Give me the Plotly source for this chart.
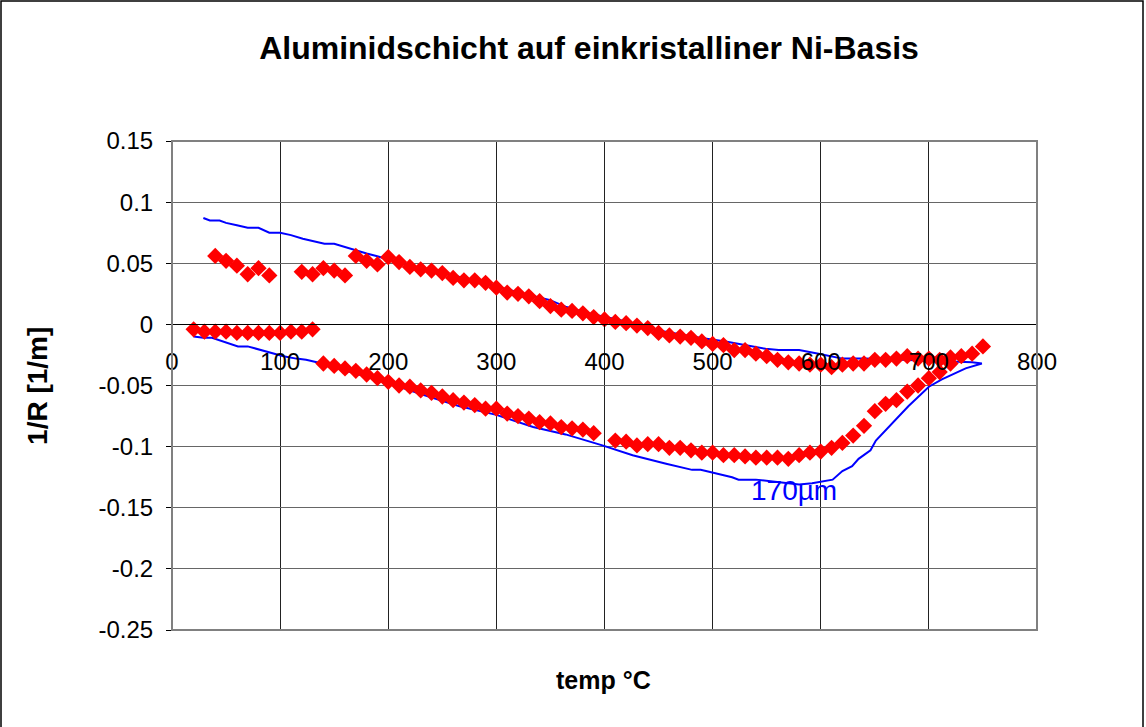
import plotly.graph_objects as go

# Messpunkte (rote Rauten): Temperatur in °C und Krümmung 1/R in 1/m
temp_flat = [20, 30, 40, 50, 60, 70, 80, 90, 100, 110, 120, 130]
curv_flat = [-0.004, -0.006, -0.006, -0.006, -0.007, -0.007, -0.007, -0.007, -0.007, -0.006, -0.006, -0.004]

temp_low = [140, 150, 160, 170, 180, 190, 200, 210, 220, 230, 240, 250, 260, 270, 280, 290, 300,
            310, 320, 330, 340, 350, 360, 370, 380, 390, 410, 420, 430, 440, 450, 460, 470, 480,
            490, 500, 510, 520, 530, 540, 550, 560, 570, 580, 590, 600, 610, 620, 630, 640, 650,
            660, 670, 680, 690, 700, 710, 720, 730, 740, 750]
curv_low = [-0.032, -0.034, -0.036, -0.038, -0.041, -0.044, -0.047, -0.050, -0.051, -0.054, -0.056,
            -0.059, -0.062, -0.064, -0.066, -0.069, -0.069, -0.073, -0.075, -0.077, -0.080, -0.081,
            -0.084, -0.085, -0.086, -0.089, -0.095, -0.096, -0.099, -0.098, -0.098, -0.101, -0.101,
            -0.103, -0.105, -0.105, -0.107, -0.107, -0.108, -0.109, -0.109, -0.109, -0.110, -0.107,
            -0.105, -0.104, -0.101, -0.097, -0.091, -0.083, -0.071, -0.065, -0.062, -0.055, -0.050,
            -0.044, -0.039, -0.032, -0.026, -0.024, -0.018]

temp_up = [720, 710, 700, 690, 680, 670, 660, 650, 640, 630, 620, 610, 600, 590, 580, 570, 560,
           550, 540, 530, 520, 510, 500, 490, 480, 470, 460, 450, 440, 430, 420, 410, 400, 390,
           380, 370, 360, 350, 340, 330, 320, 310, 300, 290, 280, 270, 260, 250, 240, 230, 220,
           210, 200, 190, 180, 170, 160, 150, 140, 130, 120, 90, 80, 70, 60, 50, 40]
curv_up = [-0.027, -0.029, -0.028, -0.028, -0.026, -0.028, -0.029, -0.029, -0.032, -0.032, -0.033,
           -0.035, -0.033, -0.033, -0.032, -0.031, -0.029, -0.026, -0.024, -0.021, -0.021, -0.017,
           -0.016, -0.014, -0.011, -0.010, -0.009, -0.007, -0.003, -0.001, 0.001, 0.002, 0.004,
           0.006, 0.009, 0.011, 0.012, 0.015, 0.019, 0.023, 0.025, 0.026, 0.030, 0.034, 0.036,
           0.036, 0.038, 0.042, 0.044, 0.045, 0.047, 0.051, 0.055, 0.049, 0.052, 0.056, 0.040,
           0.044, 0.046, 0.041, 0.043, 0.040, 0.046, 0.041, 0.048, 0.052, 0.056]

# Rechnung 170 µm (blaue Linie)
temp_calc = [29, 35, 44, 50, 60, 70, 80, 90, 100, 110, 121, 131, 141, 150, 161, 171, 180, 189, 200,
             220, 250, 275, 300, 325, 349, 364, 390, 414, 450, 488, 512, 524, 537, 549, 561, 580,
             598, 620, 641, 680, 720, 740, 749,
             734, 712, 700, 681, 666, 651, 646, 635, 629, 620, 611, 592, 580, 560, 540, 524, 518,
             489, 481, 457, 426, 398, 364, 334, 300, 266, 230, 200, 170, 150, 134, 124, 115, 103,
             90, 81, 70, 61, 50, 37, 29, 20]
curv_calc = [0.087, 0.085, 0.085, 0.083, 0.081, 0.079, 0.079, 0.075, 0.075, 0.073, 0.070, 0.068,
             0.066, 0.066, 0.063, 0.060, 0.058, 0.056, 0.053, 0.048, 0.042, 0.037, 0.031, 0.025,
             0.020, 0.0145, 0.008, 0.0036, -0.005, -0.011, -0.014, -0.016, -0.018, -0.020, -0.021,
             -0.021, -0.024, -0.028, -0.028, -0.029, -0.030, -0.031, -0.032,
             -0.036, -0.045, -0.051, -0.067, -0.081, -0.095, -0.103, -0.110, -0.116, -0.120,
             -0.127, -0.130, -0.131, -0.129, -0.127, -0.127, -0.125, -0.119, -0.119, -0.114,
             -0.107, -0.099, -0.090, -0.084, -0.074, -0.067, -0.057, -0.048, -0.040, -0.035,
             -0.031, -0.029, -0.028, -0.026, -0.023, -0.021, -0.018, -0.018, -0.015, -0.011,
             -0.011, -0.010]

x_ticks = [0, 100, 200, 300, 400, 500, 600, 700, 800]
y_ticks = [0.15, 0.1, 0.05, 0, -0.05, -0.1, -0.15, -0.2, -0.25]
y_ticktext = ['0.15', '0.1', '0.05', '0', '-0.05', '-0.1', '-0.15', '-0.2', '-0.25']

font = 'Arial, Liberation Sans, sans-serif'

fig = go.Figure()

# Blaue Linie zuerst, damit die Rauten darüber liegen
fig.add_trace(go.Scatter(x=temp_calc, y=curv_calc, mode='lines',
                         line=dict(color='#0000FF', width=2)))

fig.add_trace(go.Scatter(x=temp_flat + temp_low + temp_up, y=curv_flat + curv_low + curv_up,
                         mode='markers',
                         marker=dict(symbol='diamond', size=12.5, color='#FF0000', line=dict(width=0))))

fig.update_layout(
    width=1146, height=727,
    margin=dict(l=172, r=109, t=141, b=97),
    paper_bgcolor='white', plot_bgcolor='white',
    showlegend=False,
    font=dict(family=font, size=24, color='black'),
    title=dict(text='<b>Aluminidschicht auf einkristalliner Ni-Basis</b>',
               x=0.514, xref='container', xanchor='center',
               y=1 - 48 / 727, yref='container', yanchor='middle',
               font=dict(size=32, family=font)),
    xaxis=dict(range=[0, 800], tickvals=x_ticks, ticktext=[str(v) for v in x_ticks],
               anchor='free', position=0.625,
               showgrid=True, gridcolor='#222222', gridwidth=1,
               showline=True, linecolor='black', linewidth=1,
               ticks='outside', ticklen=5, tickcolor='black',
               ticklabelstandoff=11, zeroline=False),
    yaxis=dict(range=[-0.25, 0.15], tickvals=y_ticks, ticktext=y_ticktext,
               showgrid=True, gridcolor='#666666', gridwidth=1,
               showline=True, linecolor='black', linewidth=1,
               ticks='outside', ticklen=5, tickcolor='black',
               ticklabelstandoff=8,
               zeroline=True, zerolinecolor='black', zerolinewidth=1),
    annotations=[
        dict(text='170µm', x=575, y=-0.1355, xref='x', yref='y', showarrow=False,
             xanchor='center', yanchor='middle',
             font=dict(size=28, color='#0000FF', family=font)),
        dict(text='<b>temp °C</b>', x=0.499, y=-0.102, xref='paper', yref='paper',
             xanchor='center', yanchor='middle',
             showarrow=False, font=dict(size=25, family=font)),
        dict(text='<b>1/R [1/m]</b>', x=-0.155, y=0.499, xref='paper', yref='paper',
             xanchor='center', yanchor='middle',
             showarrow=False, textangle=-90, font=dict(size=28, family=font)),
    ],
    shapes=[
        # grauer Rahmen der Zeichnungsfläche
        dict(type='rect', xref='paper', yref='paper', x0=0, y0=0, x1=1, y1=1,
             line=dict(color='#808080', width=2), layer='above'),
        # äußerer Diagrammrahmen
        dict(type='rect', xref='paper', yref='paper',
             x0=(1 - 172) / 865, x1=(1143 - 172) / 865,
             y0=(630 - 740) / 489, y1=(630 - 1) / 489,
             line=dict(color='black', width=1.5)),
    ],
)

# Seitenrand entfernen, damit das Diagramm bündig im Fenster liegt
fig.write_html("out.html", config={'displayModeBar': False},
               post_script="document.body.style.margin='0';")
